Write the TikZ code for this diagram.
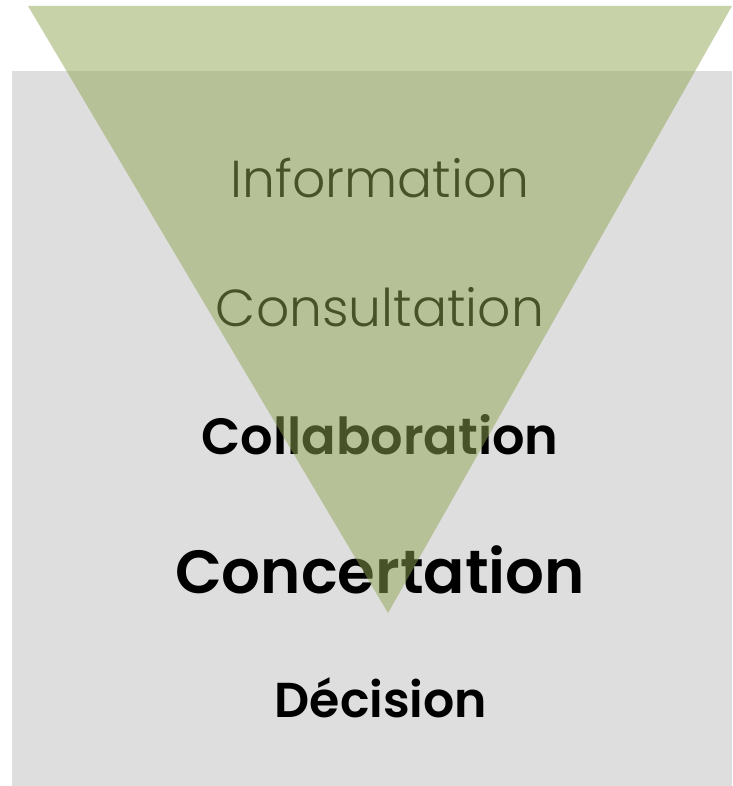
\documentclass[tikz,border=0pt]{standalone}
\usepackage{fontspec}
\setmainfont{Poppins}
\newfontfamily\lightfont{Poppins Light}
\newfontfamily\semifont{Poppins SemiBold}
\definecolor{panelgray}{RGB}{222,222,222}
\definecolor{funnelgreen}{RGB}{145,165,81}
\tikzset{
  lightlabel/.style={anchor=base, inner sep=0pt, text=black, font=\lightfont\fontsize{52}{60}\selectfont},
  boldlabel/.style={anchor=base, inner sep=0pt, text=black},
}
\begin{document}
\begin{tikzpicture}[x=1pt,y=-1pt]
\useasboundingbox (0,0) rectangle (732,786);
\fill[panelgray] (12,71) rectangle (732,786);
\node[lightlabel] (info) at (380,198) {Information};
\node[lightlabel] (cons) at (380,326) {Consultation};
\node[boldlabel, font=\semifont\fontsize{51}{58}\selectfont] (coll) at (380,454) {Collaboration};
\node[boldlabel, font=\semifont\fontsize{61}{70}\selectfont] (conc) at (380,593) {Concertation};
\node[boldlabel, font=\semifont\fontsize{49}{56}\selectfont] (deci) at (381,717) {Décision};
\fill[funnelgreen, fill opacity=0.5] (28,6) -- (732,6) -- (388,613) -- cycle;
\end{tikzpicture}
\end{document}
